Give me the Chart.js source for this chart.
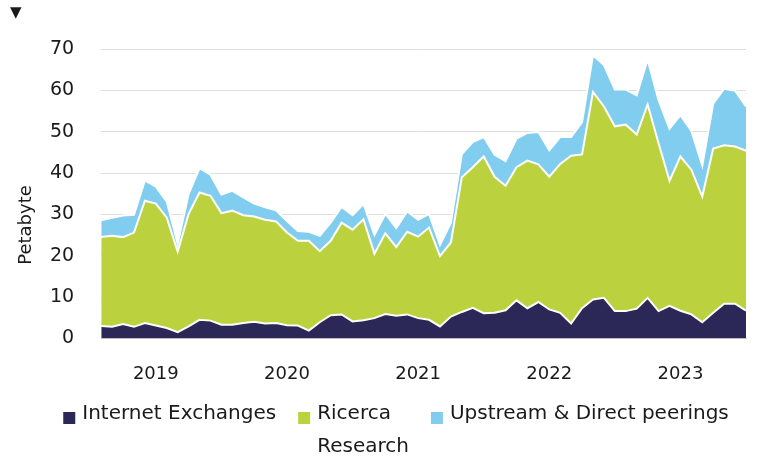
<!DOCTYPE html>
<html>
<head>
<meta charset="utf-8">
<script src="https://cdn.jsdelivr.net/npm/chart.js@4"></script>
<style>
  body { margin: 0; background: #fff; }
  #wrap { position: relative; width: 757px; height: 457px; }
  #arrow { position: absolute; left: 10px; top: 3px; font: 15px "DejaVu Sans"; color: #1a1a1a; }
</style>
</head>
<body>
<div id="wrap">
  <canvas id="chart" width="757" height="457"></canvas>
  <div id="arrow">▼</div>
</div>
<script>
// mesi da agosto 2018 a luglio 2023
const months = [];
for (let y = 2018; y <= 2023; y++) {
  for (let m = 1; m <= 12; m++) {
    if ((y === 2018 && m < 8) || (y === 2023 && m > 7)) continue;
    months.push(y + '-' + String(m).padStart(2, '0'));
  }
}

const yTicks = [0, 10, 20, 30, 40, 50, 60, 70];

const internetExchanges = [3.0, 2.8, 3.5, 2.8, 3.7, 3.1, 2.5, 1.5, 2.9, 4.5, 4.3, 3.3,
  3.3, 3.7, 4.0, 3.6, 3.7, 3.2, 3.1, 1.9, 3.9, 5.6, 5.8, 4.1,
  4.4, 4.9, 5.9, 5.5, 5.8, 4.9, 4.5, 2.9, 5.3, 6.4, 7.4, 6.1,
  6.2, 6.8, 9.2, 7.3, 8.8, 7.0, 6.2, 3.6, 7.3, 9.4, 9.8, 6.6,
  6.6, 7.2, 9.8, 6.6, 7.9, 6.7, 5.8, 3.9, 6.2, 8.4, 8.4, 6.7];

const ricerca = [21.5, 22.0, 21.0, 22.8, 29.6, 29.5, 26.7, 19.5, 27.2, 30.8, 30.2, 27.0,
  27.6, 26.1, 25.5, 25.1, 24.6, 22.4, 20.5, 21.7, 17.2, 18.0, 22.2, 22.2,
  24.4, 15.6, 19.5, 16.6, 20.0, 19.7, 22.3, 17.0, 17.9, 32.6, 34.0, 37.9,
  32.9, 30.1, 32.2, 35.7, 33.3, 32.1, 36.0, 40.6, 37.2, 50.2, 46.3, 44.7,
  45.1, 42.1, 46.8, 40.6, 30.2, 37.3, 35.0, 30.4, 39.7, 38.3, 38.0, 38.7];

const upstream = [4.1, 4.4, 5.2, 4.3, 4.9, 4.1, 3.9, 1.9, 4.8, 5.9, 5.1, 4.5,
  4.8, 4.3, 3.1, 3.0, 2.7, 2.8, 2.4, 2.2, 3.7, 4.4, 3.8, 3.5,
  3.7, 4.5, 4.7, 4.6, 4.9, 4.1, 3.3, 2.7, 4.8, 5.6, 6.1, 4.7,
  5.3, 6.0, 6.9, 6.7, 7.8, 6.4, 6.5, 4.5, 7.8, 8.9, 10.0, 8.9,
  8.5, 9.5, 10.8, 10.4, 12.6, 10.0, 9.4, 7.5, 10.9, 13.7, 13.5, 10.7];

const FONT = '"DejaVu Sans", sans-serif';
const TEXT = '#1a1a1a';

// titolo asse y e legenda (con etichetta su due righe) disegnati a mano
const extras = {
  id: 'extras',
  afterDraw(chart) {
    const c = chart.ctx;
    c.save();
    c.fillStyle = TEXT;
    c.font = '18px ' + FONT;
    c.textAlign = 'center';
    c.textBaseline = 'middle';
    c.translate(26, 225);
    c.rotate(-Math.PI / 2);
    c.fillText('Petabyte', 0, 0);
    c.restore();

    c.save();
    c.font = '20px ' + FONT;
    c.textBaseline = 'middle';
    c.textAlign = 'left';
    const items = chart.data.datasets.map((ds) => {
      const lines = ds.label.split('|');
      const w = Math.max(...lines.map((l) => c.measureText(l).width));
      return { lines, color: ds.backgroundColor, w: 12 + 7 + w };
    });
    const gap = 22;
    const total = items.reduce((s, it) => s + it.w, 0) + gap * (items.length - 1);
    let x = 396 - total / 2;
    const y = 414;
    items.forEach((it) => {
      c.fillStyle = it.color;
      c.fillRect(x, y - 2, 12, 12);
      c.fillStyle = TEXT;
      it.lines.forEach((l, k) => c.fillText(l, x + 19, y + k * 33));
      x += it.w + gap;
    });
    c.restore();
  },
};

const ctx = document.getElementById('chart').getContext('2d');
new Chart(ctx, {
  type: 'line',
  data: {
    labels: months,
    datasets: [
      { label: 'Internet Exchanges', data: internetExchanges, backgroundColor: '#2b2858', fill: 'origin' },
      { label: 'Ricerca|Research', data: ricerca, backgroundColor: '#bcd13e', fill: '-1' },
      { label: 'Upstream & Direct peerings', data: upstream, backgroundColor: '#81cdef', fill: '-1' },
    ],
  },
  plugins: [extras],
  options: {
    responsive: false,
    animation: false,
    layout: { padding: { left: 23, right: 11, top: 49, bottom: 55 } },
    elements: {
      point: { radius: 0 },
      line: { tension: 0, borderColor: '#ffffff', borderWidth: 2 },
    },
    plugins: {
      tooltip: { enabled: false },
      legend: { display: false },
    },
    scales: {
      x: {
        grid: { display: false },
        border: { color: '#d4d4d4' },
        afterFit: (scale) => { scale.paddingLeft = 0; scale.paddingRight = 0; },
        ticks: {
          autoSkip: false,
          maxRotation: 0,
          color: TEXT,
          font: { family: FONT, size: 18 },
          padding: 17,
          callback: function (value, index) {
            const lab = months[index];
            return lab.endsWith('-01') ? lab.slice(0, 4) : '';
          },
        },
      },
      y: {
        stacked: true,
        min: 0,
        max: 70,
        afterBuildTicks: (scale) => { scale.ticks = yTicks.map((v) => ({ value: v })); },
        grid: { color: '#dedede', drawTicks: false },
        border: { display: false },
        ticks: { color: TEXT, font: { family: FONT, size: 19 }, padding: 27 },
      },
    },
  },
});
</script>
</body>
</html>
